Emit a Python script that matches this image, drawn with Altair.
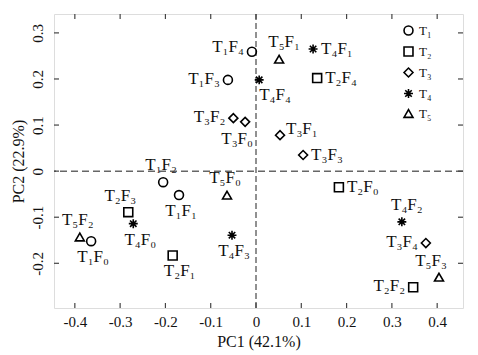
import altair as alt
import pandas as pd

# ---- data ----
treat = [1, 1, 1, 1, 1,
         2, 2, 2, 2, 2,
         3, 3, 3, 3, 3,
         4, 4, 4, 4, 4,
         5, 5, 5, 5]
level = [0, 1, 2, 3, 4,
         0, 1, 2, 3, 4,
         0, 1, 2, 3, 4,
         0, 1, 2, 3, 4,
         0, 1, 2, 3]
pc1 = [-0.364, -0.170, -0.205, -0.062, -0.009,
       0.183, -0.184, 0.347, -0.282, 0.135,
       -0.024, 0.053, -0.050, 0.104, 0.375,
       -0.271, 0.126, 0.322, -0.053, 0.007,
       -0.064, 0.051, -0.389, 0.404]
pc2 = [-0.152, -0.052, -0.024, 0.198, 0.259,
       -0.035, -0.183, -0.252, -0.089, 0.202,
       0.107, 0.078, 0.115, 0.035, -0.156,
       -0.114, 0.265, -0.110, -0.139, 0.198,
       -0.052, 0.243, -0.143, -0.230]
# label placement relative to its point (code)
place = ["B", "B", "A", "L", "LU",
         "R", "BR", "L", "AL", "R",
         "BL", "RU", "L", "R", "L",
         "BR", "R", "AR", "B", "BRR",
         "A", "AR", "A", "AL"]

x_ticks = [-0.4, -0.3, -0.2, -0.1, 0, 0.1, 0.2, 0.3, 0.4]
y_ticks = [-0.2, -0.1, 0, 0.1, 0.2, 0.3]
x_title = "PC1 (42.1%)"
y_title = "PC2 (22.9%)"

SUB = "₀₁₂₃₄₅₆₇₈₉"
df = pd.DataFrame({
    "pc1": pc1, "pc2": pc2, "place": place,
    "group": ["T" + SUB[t] for t in treat],
    "label": ["T" + SUB[t] + "F" + SUB[f] for t, f in zip(treat, level)],
})

W, H = 409, 294
FONT = "Liberation Serif"
XDOM = [-0.446, 0.457]
YDOM = [-0.297, 0.341]

xs = alt.Scale(domain=XDOM, nice=False, zero=False)
ys = alt.Scale(domain=YDOM, nice=False, zero=False)
ASTER = "M0,-1L0,1M-1,0L1,0M-0.72,-0.72L0.72,0.72M-0.72,0.72L0.72,-0.72"

num_expr = "datum.value == 0 ? '0' : (datum.value < 0 ? '-' : '') + format(abs(datum.value), '.1f')"

xenc = alt.X("pc1:Q", scale=xs, title=x_title,
             axis=alt.Axis(values=x_ticks, labelExpr=num_expr, ticks=False, domain=False,
                           grid=False, labelFont=FONT, labelFontSize=15, labelColor="#111",
                           labelPadding=6, titleFont=FONT, titleFontSize=16,
                           titleFontWeight="normal", titleColor="#111", titlePadding=4))
yenc = alt.Y("pc2:Q", scale=ys, title=y_title,
             axis=alt.Axis(values=y_ticks, labelExpr=num_expr, ticks=False, domain=False,
                           grid=False, labelFont=FONT, labelFontSize=15, labelColor="#111",
                           labelAngle=270, labelAlign="center", labelBaseline="bottom",
                           labelPadding=9, titleFont=FONT, titleFontSize=16,
                           titleFontWeight="normal", titleColor="#111", titlePadding=4))

base = alt.Chart(df)

points = base.mark_point(filled=False, strokeWidth=1.6, color="black", size=80, opacity=1).encode(
    x=xenc, y=yenc,
    shape=alt.Shape("group:N",
                    scale=alt.Scale(domain=["T₁", "T₂", "T₃", "T₄", "T₅"],
                                    range=["circle", "square", "diamond", ASTER, "triangle-up"]),
                    legend=alt.Legend(title=None, orient="none", legendX=348, legendY=10,
                                      labelFont=FONT, labelFontSize=13, labelColor="#111",
                                      symbolStrokeColor="black", symbolStrokeWidth=1.6,
                                      symbolSize=80, rowPadding=4, padding=0)),
)

# label placements: (align, dx, dy)
placements = {
    "L": ("right", -8, -1),
    "LU": ("right", -8, -5),
    "R": ("left", 8, 0),
    "RU": ("left", 6, -6),
    "A": ("center", -2, -17),
    "AR": ("center", 5, -17),
    "AL": ("center", -8, -16),
    "B": ("center", 2, 16),
    "BR": ("center", 7, 16),
    "BL": ("center", -8, 17),
    "BRR": ("left", 0, 15),
}
label_layers = []
for code, (al, dx, dy) in placements.items():
    label_layers.append(
        base.transform_filter(alt.FieldOneOfPredicate(field="place", oneOf=[code]))
        .mark_text(align=al, baseline="middle", dx=dx, dy=dy, font=FONT, fontSize=17, color="#111")
        .encode(x=alt.X("pc1:Q", scale=xs), y=alt.Y("pc2:Q", scale=ys), text="label:N")
    )

zero_df = pd.DataFrame({"z": [0]})
hline = alt.Chart(zero_df).mark_rule(color="#666", strokeDash=[7, 4], strokeWidth=1.5).encode(
    y=alt.Y("z:Q", scale=ys))
vline = alt.Chart(zero_df).mark_rule(color="#222", strokeDash=[6, 3], strokeWidth=1).encode(
    x=alt.X("z:Q", scale=xs))

xt = pd.DataFrame({"t": x_ticks})
yt = pd.DataFrame({"t": y_ticks})
TL = 5
tick_style = dict(color="#444", strokeWidth=1.2)
ticks_top = alt.Chart(xt).mark_rule(**tick_style).encode(
    x=alt.X("t:Q", scale=xs), y=alt.value(0), y2=alt.value(TL))
ticks_bot = alt.Chart(xt).mark_rule(**tick_style).encode(
    x=alt.X("t:Q", scale=xs), y=alt.value(H), y2=alt.value(H - TL))
ticks_left = alt.Chart(yt).mark_rule(**tick_style).encode(
    y=alt.Y("t:Q", scale=ys), x=alt.value(0), x2=alt.value(TL))
ticks_right = alt.Chart(yt).mark_rule(**tick_style).encode(
    y=alt.Y("t:Q", scale=ys), x=alt.value(W), x2=alt.value(W - TL))

chart = alt.layer(
    hline, vline, ticks_top, ticks_bot, ticks_left, ticks_right, points, *label_layers
).properties(
    width=W, height=H,
    autosize=alt.AutoSizeParams(type="none"),
    padding={"left": 54, "top": 14, "right": 15, "bottom": 47},
).configure_view(stroke="#555", strokeWidth=1.5).configure(background="white")

chart.save("out.html", embed_options={"renderer": "svg", "actions": False})
